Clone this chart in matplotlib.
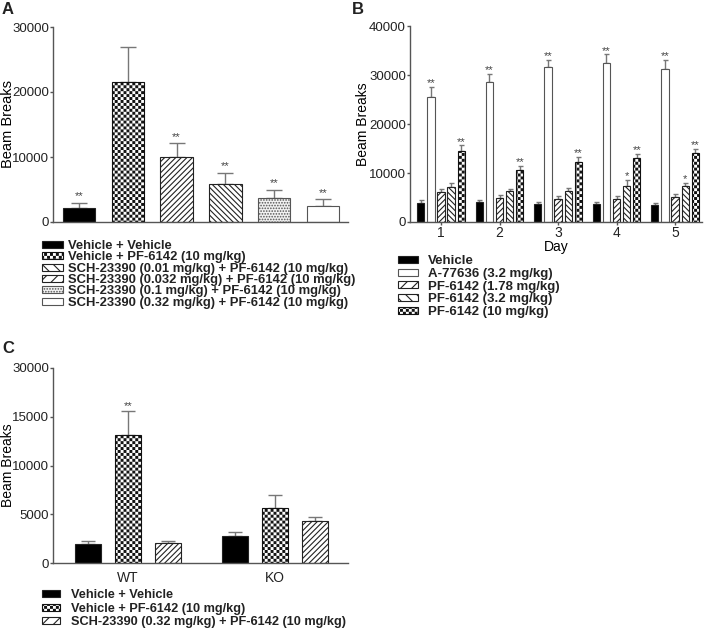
import warnings
import numpy as np
import matplotlib
matplotlib.use('Agg')
import matplotlib.pyplot as plt
from matplotlib import hatch as mhatch
from matplotlib.path import Path
from matplotlib.patches import Patch

warnings.filterwarnings('ignore')

plt.rcParams['font.family'] = ['Liberation Sans', 'DejaVu Sans']
plt.rcParams['hatch.linewidth'] = 0.8
plt.rcParams['text.color'] = '#222222'

# ---- Panel A data ----
a_labels = ['Vehicle + Vehicle',
            'Vehicle + PF-6142 (10 mg/kg)',
            'SCH-23390 (0.01 mg/kg) + PF-6142 (10 mg/kg)',
            'SCH-23390 (0.032 mg/kg) + PF-6142 (10 mg/kg)',
            'SCH-23390 (0.1 mg/kg) + PF-6142 (10 mg/kg)',
            'SCH-23390 (0.32 mg/kg) + PF-6142 (10 mg/kg)']
a_means = [2200, 21600, 9950, 5900, 3640, 2410]
a_sems = [770, 5290, 2150, 1690, 1330, 1080]
a_stars = ['**', '', '**', '**', '**', '**']

# ---- Panel B data ----
b_days = [1, 2, 3, 4, 5]
b_labels = ['Vehicle', 'A-77636 (3.2 mg/kg)', 'PF-6142 (1.78 mg/kg)',
            'PF-6142 (3.2 mg/kg)', 'PF-6142 (10 mg/kg)']
b_vehicle = [3810, 4150, 3610, 3610, 3410]
b_vehicle_sem = [680, 340, 410, 410, 480]
b_a77636 = [25440, 28570, 31550, 32370, 31140]
b_a77636_sem = [2180, 1630, 1500, 1840, 1910]
b_pf178 = [6120, 4900, 4630, 4630, 5110]
b_pf178_sem = [680, 610, 680, 680, 680]
b_pf32 = [7080, 6330, 6340, 7360, 7360]
b_pf32_sem = [950, 480, 680, 1160, 610]
b_pf10 = [14490, 10560, 12200, 13080, 14110]
b_pf10_sem = [1160, 890, 1090, 890, 890]
b_a77636_stars = ['**', '**', '**', '**', '**']
b_pf32_stars = ['', '', '', '*', '*']
b_pf10_stars = ['**', '**', '**', '**', '**']

# ---- Panel C data ----
c_groups = ['WT', 'KO']
c_labels = ['Vehicle + Vehicle', 'Vehicle + PF-6142 (10 mg/kg)',
            'SCH-23390 (0.32 mg/kg) + PF-6142 (10 mg/kg)']
c_vehicle = [1940, 2760]
c_vehicle_sem = [270, 370]
c_pf = [13160, 5680]
c_pf_sem = [3680, 1330]
c_sch = [2010, 4320]
c_sch_sem = [240, 440]
c_pf_stars = ['**', '']


# checkerboard hatch, triggered by the letter 'c'
class Checker(mhatch.HatchPatternBase):
    def __init__(self, hatch, density):
        self.n = 17 * hatch.count('c')
        self.num_vertices = (self.n * self.n // 2) * 5

    def set_vertices_and_codes(self, vertices, codes):
        s = 1.0 / self.n
        m = 0.0056
        k = 0
        for i in range(self.n):
            for j in range(self.n):
                if (i + j) % 2 == 0:
                    x, y = i * s + m, j * s + m
                    w = s - 2 * m
                    vertices[k:k + 5] = [(x, y), (x + w, y), (x + w, y + w),
                                         (x, y + w), (x, y)]
                    codes[k:k + 5] = [Path.MOVETO, Path.LINETO, Path.LINETO,
                                      Path.LINETO, Path.CLOSEPOLY]
                    k += 5


mhatch._hatch_types.append(Checker)

BLACK = dict(fc='black', ec='#222222', hatch=None)
CHECK = dict(fc='white', ec='#111111', hatch='cc')
FWD = dict(fc='white', ec='#222222', hatch='//////')
BACK = dict(fc='white', ec='#222222', hatch='\\\\\\\\\\\\')
DOTS = dict(fc='#f2f2f2', ec='#555555', hatch='......')
WHITE = dict(fc='white', ec='#555555', hatch=None)


def draw_bars(ax, x, means, sems, width, style, capsize, stars=None, star_off=0):
    ax.bar(x, means, width, color=style['fc'], edgecolor=style['ec'],
           hatch=style['hatch'], linewidth=0.8, zorder=2)
    ax.errorbar(x, means, yerr=[np.zeros(len(means)), sems], fmt='none',
                ecolor='#777777', elinewidth=1.0, capsize=capsize,
                capthick=1.0, zorder=1)
    if stars:
        for xi, m, s, st in zip(x, means, sems, stars):
            if st:
                ax.annotate(st, (xi, m + s), xytext=(0, star_off),
                            textcoords='offset points', ha='center',
                            va='baseline', fontsize=8, color='#444444')


def style_axes(ax):
    for side in ['top', 'right']:
        ax.spines[side].set_visible(False)
    for side in ['left', 'bottom']:
        ax.spines[side].set_color('#555555')
        ax.spines[side].set_linewidth(1.0)
    ax.tick_params(axis='y', colors='#555555', labelcolor='#222222',
                   length=2, width=1, pad=1, labelsize=9.5)


def legend_handle(style):
    return Patch(facecolor=style['fc'], edgecolor=style['ec'],
                 hatch=style['hatch'], linewidth=0.8)


fig = plt.figure(figsize=(7.06, 6.28), dpi=100)
W, H = 706, 628


def px_axes(l, t, r, b):
    return fig.add_axes([l / W, 1 - b / H, (r - l) / W, (b - t) / H])


# ---------------- Panel A ----------------
axA = px_axes(53, 27, 348, 222)
xa = np.arange(len(a_means))
a_styles = [BLACK, CHECK, FWD, BACK, DOTS, WHITE]
for i in range(len(a_means)):
    draw_bars(axA, [xa[i]], [a_means[i]], [a_sems[i]], 0.66, a_styles[i],
              5.7, [a_stars[i]], 2.5)
axA.set_xlim(-0.53, 5.51)
axA.set_ylim(0, 30000)
axA.set_yticks([0, 10000, 20000, 30000])
axA.set_xticks([])
style_axes(axA)
axA.set_ylabel('Beam Breaks', fontsize=10.5)
axA.yaxis.set_label_coords(-0.129, 0.5)
a_leg_styles = [BLACK, CHECK, dict(BACK, hatch='\\\\\\'), dict(FWD, hatch='///'),
                DOTS, WHITE]
axA.legend([legend_handle(s) for s in a_leg_styles], a_labels,
           loc='upper left', bbox_to_anchor=(42 / W, 1 - 240 / H),
           bbox_transform=fig.transFigure, frameon=False, borderpad=0,
           borderaxespad=0, handlelength=1.58, handleheight=0.45,
           handletextpad=0.4, labelspacing=-0.05,
           prop=dict(size=9.4, weight='bold'))

# ---------------- Panel B ----------------
axB = px_axes(410, 26, 702, 222)
xb = np.array(b_days, dtype=float)
step = 0.173
b_series = [(b_vehicle, b_vehicle_sem, BLACK, None),
            (b_a77636, b_a77636_sem, WHITE, b_a77636_stars),
            (b_pf178, b_pf178_sem, FWD, None),
            (b_pf32, b_pf32_sem, BACK, b_pf32_stars),
            (b_pf10, b_pf10_sem, CHECK, b_pf10_stars)]
for k, (m, s, st, stars) in enumerate(b_series):
    draw_bars(axB, xb + (k - 2) * step, m, s, 0.125, st, 1.8, stars, 0.5)
axB.set_xlim(0.47, 5.46)
axB.set_ylim(0, 40000)
axB.set_yticks([0, 10000, 20000, 30000, 40000])
axB.set_xticks(b_days)
style_axes(axB)
axB.tick_params(axis='x', colors='#555555', labelcolor='#222222', length=2,
                width=1, pad=1, labelsize=10)
axB.set_xlabel('Day', fontsize=10, labelpad=0)
axB.set_ylabel('Beam Breaks', fontsize=10)
axB.yaxis.set_label_coords(-0.137, 0.5)
axB.legend([legend_handle(s) for s in [BLACK, WHITE, dict(FWD, hatch='///'),
                                         dict(BACK, hatch='\\\\\\'), CHECK]],
           b_labels, loc='upper left', bbox_to_anchor=(398 / W, 1 - 255 / H),
           bbox_transform=fig.transFigure, frameon=False, borderpad=0,
           borderaxespad=0, handlelength=1.55, handleheight=0.45,
           handletextpad=0.75, labelspacing=0.06,
           prop=dict(size=9.5, weight='bold'))

# ---------------- Panel C ----------------
axC = px_axes(53, 368, 348, 563)


def c_fwd(y):
    y = np.asarray(y, dtype=float)
    return np.where(y <= 15000, y, 15000 + (y - 15000) / 3.0)


def c_inv(u):
    u = np.asarray(u, dtype=float)
    return np.where(u <= 15000, u, 15000 + (u - 15000) * 3.0)


axC.set_yscale('function', functions=(c_fwd, c_inv))
xc = np.arange(len(c_groups))
off = 0.272
draw_bars(axC, xc - off, c_vehicle, c_vehicle_sem, 0.177, BLACK, 4.8)
draw_bars(axC, xc, c_pf, c_pf_sem, 0.177, CHECK, 4.8, c_pf_stars, 1.2)
draw_bars(axC, xc + off, c_sch, c_sch_sem, 0.177, FWD, 4.8)
axC.set_xlim(-0.51, 1.497)
axC.set_ylim(0, 30000)
axC.set_yticks([0, 5000, 10000, 15000, 30000])
axC.set_yticklabels(['0', '5000', '10000', '15000', '30000'])
axC.minorticks_off()
axC.set_xticks(xc)
axC.set_xticklabels(c_groups)
style_axes(axC)
axC.tick_params(axis='x', length=0, pad=6, labelsize=10, labelcolor='#222222')
axC.set_ylabel('Beam Breaks', fontsize=10)
axC.yaxis.set_label_coords(-0.129, 0.5)
axC.legend([legend_handle(s) for s in [BLACK, CHECK, dict(FWD, hatch='///')]],
           c_labels, loc='upper left', bbox_to_anchor=(42 / W, 1 - 589 / H),
           bbox_transform=fig.transFigure, frameon=False, borderpad=0,
           borderaxespad=0, handlelength=1.4, handleheight=0.45,
           handletextpad=0.9, labelspacing=0.13,
           prop=dict(size=9.2, weight='bold'))

# panel letters
fig.text(2 / W, 1 - 2 / H, 'A', fontsize=12, weight='bold', va='top', ha='left')
fig.text(352 / W, 1 - 2 / H, 'B', fontsize=12, weight='bold', va='top', ha='left')
fig.text(2 / W, 1 - 341 / H, 'C', fontsize=12, weight='bold', va='top', ha='left')

fig.savefig('out.png', dpi=100)
